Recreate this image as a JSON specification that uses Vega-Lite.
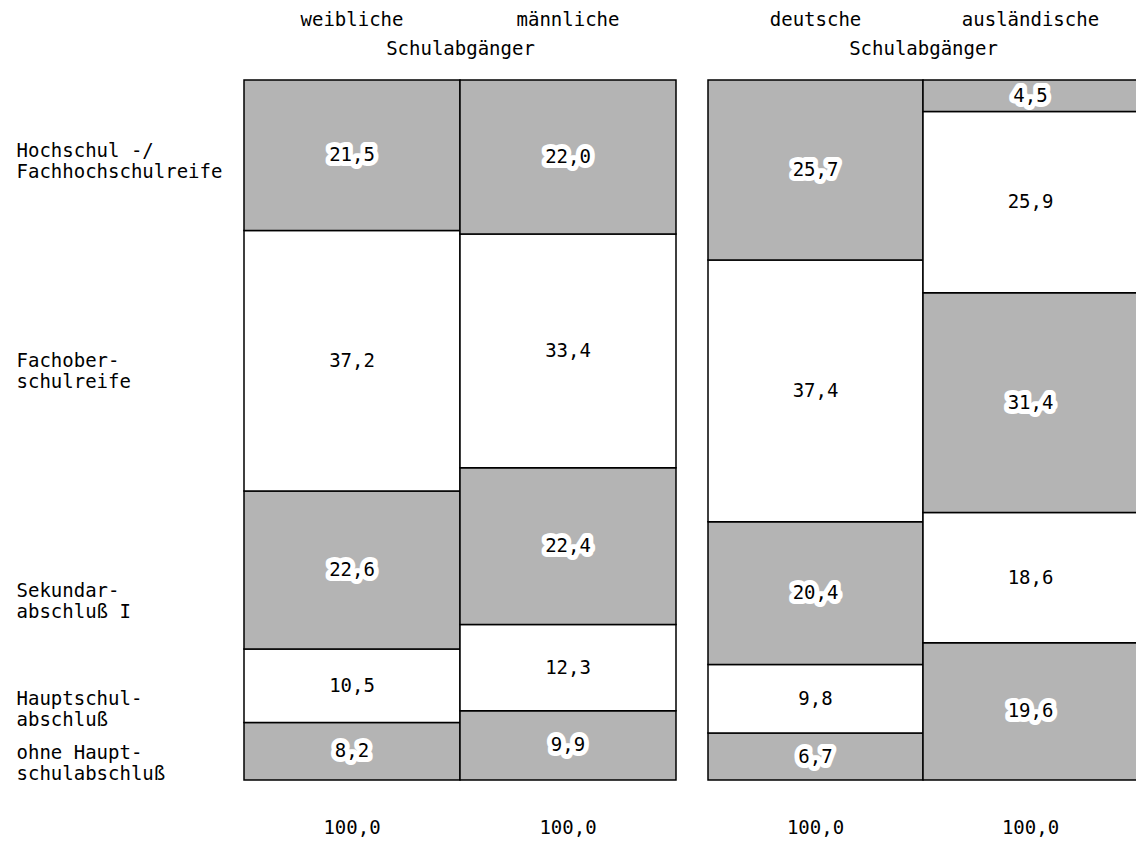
{
  "$schema": "https://vega.github.io/schema/vega-lite/v6.json",
  "background": "white",
  "padding": {"left": 16, "top": 10, "right": 0, "bottom": 0},
  "spacing": 30,
  "config": {
    "view": {"stroke": null},
    "font": "DejaVu Sans Mono",
    "locale": {"number": {"decimal": ",", "thousands": ".", "grouping": [3], "currency": ["", " €"]}},
    "axis": {"labelFont": "DejaVu Sans Mono", "titleFont": "DejaVu Sans Mono", "labelColor": "black", "titleColor": "black", "labelFontSize": 19, "titleFontSize": 19, "titleFontWeight": "normal", "labelLimit": 0, "domain": false, "ticks": false, "grid": false}
  },
  "datasets": {
    "rows": [
      {"panel": "A", "bar": "weibliche", "abschluss": "ohne Hauptschulabschluß", "rank": 1, "value": 8.2},
      {"panel": "A", "bar": "weibliche", "abschluss": "Hauptschulabschluß", "rank": 2, "value": 10.5},
      {"panel": "A", "bar": "weibliche", "abschluss": "Sekundarabschluß I", "rank": 3, "value": 22.6},
      {"panel": "A", "bar": "weibliche", "abschluss": "Fachoberschulreife", "rank": 4, "value": 37.2},
      {"panel": "A", "bar": "weibliche", "abschluss": "Hochschul-/Fachhochschulreife", "rank": 5, "value": 21.5},
      {"panel": "A", "bar": "männliche", "abschluss": "ohne Hauptschulabschluß", "rank": 1, "value": 9.9},
      {"panel": "A", "bar": "männliche", "abschluss": "Hauptschulabschluß", "rank": 2, "value": 12.3},
      {"panel": "A", "bar": "männliche", "abschluss": "Sekundarabschluß I", "rank": 3, "value": 22.4},
      {"panel": "A", "bar": "männliche", "abschluss": "Fachoberschulreife", "rank": 4, "value": 33.4},
      {"panel": "A", "bar": "männliche", "abschluss": "Hochschul-/Fachhochschulreife", "rank": 5, "value": 22.0},
      {"panel": "B", "bar": "deutsche", "abschluss": "ohne Hauptschulabschluß", "rank": 1, "value": 6.7},
      {"panel": "B", "bar": "deutsche", "abschluss": "Hauptschulabschluß", "rank": 2, "value": 9.8},
      {"panel": "B", "bar": "deutsche", "abschluss": "Sekundarabschluß I", "rank": 3, "value": 20.4},
      {"panel": "B", "bar": "deutsche", "abschluss": "Fachoberschulreife", "rank": 4, "value": 37.4},
      {"panel": "B", "bar": "deutsche", "abschluss": "Hochschul-/Fachhochschulreife", "rank": 5, "value": 25.7},
      {"panel": "B", "bar": "ausländische", "abschluss": "ohne Hauptschulabschluß", "rank": 1, "value": 19.6},
      {"panel": "B", "bar": "ausländische", "abschluss": "Hauptschulabschluß", "rank": 2, "value": 18.6},
      {"panel": "B", "bar": "ausländische", "abschluss": "Sekundarabschluß I", "rank": 3, "value": 31.4},
      {"panel": "B", "bar": "ausländische", "abschluss": "Fachoberschulreife", "rank": 4, "value": 25.9},
      {"panel": "B", "bar": "ausländische", "abschluss": "Hochschul-/Fachhochschulreife", "rank": 5, "value": 4.5}
    ]
  },
  "hconcat": [
    {
      "width": 432,
      "height": 700,
      "data": {"name": "rows"},
      "transform": [
        {"filter": "datum.panel === 'A'"},
        {"stack": "value", "groupby": ["bar"], "sort": [{"field": "rank", "order": "ascending"}], "as": ["y0", "y1"]},
        {"calculate": "(datum.y0 + datum.y1) / 2", "as": "ymid"}
      ],
      "resolve": {"axis": {"x": "independent", "y": "independent"}},
      "layer": [
        {
          "mark": {"type": "bar", "stroke": "black", "strokeWidth": 1.5},
          "encoding": {
            "x": {"field": "bar", "type": "nominal", "sort": ["weibliche", "männliche"], "scale": {"paddingInner": 0, "paddingOuter": 0},
              "axis": {"orient": "top", "labelAngle": 0, "labelPadding": 51, "labelBaseline": "bottom", "title": "Schulabgänger", "titleY": -32, "titleBaseline": "middle"}},
            "y": {"field": "y0", "type": "quantitative", "scale": {"domain": [0, 100], "nice": false},
              "axis": {"orient": "left", "values": [4, 11.7, 27.1, 59.9, 90], "labelAlign": "left", "labelPadding": 228, "labelBaseline": "middle", "labelOverlap": false, "labelLineHeight": 21, "title": null,
                "labelExpr": "datum.value > 80 ? ['Hochschul -/', 'Fachhochschulreife'] : datum.value > 50 ? ['Fachober-', 'schulreife'] : datum.value > 20 ? ['Sekundar-', 'abschluß I'] : datum.value > 10 ? ['Hauptschul-', 'abschluß'] : ['ohne Haupt-', 'schulabschluß']"}},
            "y2": {"field": "y1"},
            "color": {"field": "abschluss", "type": "nominal", "legend": null,
              "scale": {"domain": ["ohne Hauptschulabschluß", "Hauptschulabschluß", "Sekundarabschluß I", "Fachoberschulreife", "Hochschul-/Fachhochschulreife"], "range": ["#b4b4b4", "#ffffff", "#b4b4b4", "#ffffff", "#b4b4b4"]}}
          }
        },
        {
          "mark": {"type": "text", "fontSize": 19, "fill": "white", "stroke": "white", "strokeWidth": 10, "strokeJoin": "round"},
          "encoding": {
            "x": {"field": "bar", "type": "nominal", "sort": ["weibliche", "männliche"], "axis": {"orient": "bottom", "labelAngle": 0, "labelPadding": 38, "labelBaseline": "top", "labelExpr": "'100,0'", "title": null}},
            "y": {"field": "ymid", "type": "quantitative", "axis": null},
            "text": {"field": "value", "type": "quantitative", "format": ".1f"}
          }
        },
        {
          "mark": {"type": "text", "fontSize": 19, "fill": "black"},
          "encoding": {
            "x": {"field": "bar", "type": "nominal", "sort": ["weibliche", "männliche"], "axis": null},
            "y": {"field": "ymid", "type": "quantitative", "axis": null},
            "text": {"field": "value", "type": "quantitative", "format": ".1f"}
          }
        }
      ]
    },
    {
      "width": 430,
      "height": 700,
      "data": {"name": "rows"},
      "transform": [
        {"filter": "datum.panel === 'B'"},
        {"stack": "value", "groupby": ["bar"], "sort": [{"field": "rank", "order": "ascending"}], "as": ["y0", "y1"]},
        {"calculate": "(datum.y0 + datum.y1) / 2", "as": "ymid"}
      ],
      "resolve": {"axis": {"x": "independent", "y": "independent"}},
      "layer": [
        {
          "mark": {"type": "bar", "stroke": "black", "strokeWidth": 1.5},
          "encoding": {
            "x": {"field": "bar", "type": "nominal", "sort": ["deutsche", "ausländische"], "scale": {"paddingInner": 0, "paddingOuter": 0},
              "axis": {"orient": "top", "labelAngle": 0, "labelPadding": 51, "labelBaseline": "bottom", "title": "Schulabgänger", "titleY": -32, "titleBaseline": "middle"}},
            "y": {"field": "y0", "type": "quantitative", "scale": {"domain": [0, 100], "nice": false}, "axis": null},
            "y2": {"field": "y1"},
            "color": {"field": "abschluss", "type": "nominal", "legend": null,
              "scale": {"domain": ["ohne Hauptschulabschluß", "Hauptschulabschluß", "Sekundarabschluß I", "Fachoberschulreife", "Hochschul-/Fachhochschulreife"], "range": ["#b4b4b4", "#ffffff", "#b4b4b4", "#ffffff", "#b4b4b4"]}}
          }
        },
        {
          "mark": {"type": "text", "fontSize": 19, "fill": "white", "stroke": "white", "strokeWidth": 10, "strokeJoin": "round"},
          "encoding": {
            "x": {"field": "bar", "type": "nominal", "sort": ["deutsche", "ausländische"], "axis": {"orient": "bottom", "labelAngle": 0, "labelPadding": 38, "labelBaseline": "top", "labelExpr": "'100,0'", "title": null}},
            "y": {"field": "ymid", "type": "quantitative", "axis": null},
            "text": {"field": "value", "type": "quantitative", "format": ".1f"}
          }
        },
        {
          "mark": {"type": "text", "fontSize": 19, "fill": "black"},
          "encoding": {
            "x": {"field": "bar", "type": "nominal", "sort": ["deutsche", "ausländische"], "axis": null},
            "y": {"field": "ymid", "type": "quantitative", "axis": null},
            "text": {"field": "value", "type": "quantitative", "format": ".1f"}
          }
        }
      ]
    }
  ]
}
